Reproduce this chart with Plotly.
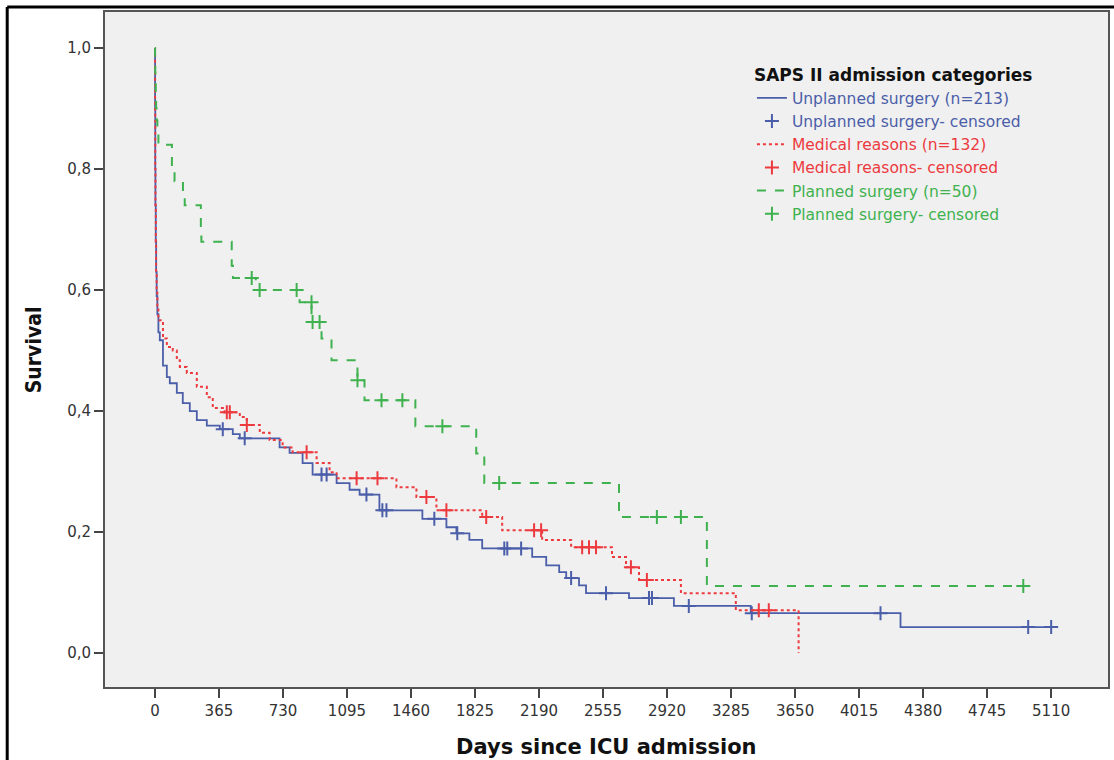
import plotly.graph_objects as go

# ---------------- data ----------------
x_ticks = [0, 365, 730, 1095, 1460, 1825, 2190, 2555, 2920, 3285, 3650, 4015, 4380, 4745, 5110]
y_ticks = [0.0, 0.2, 0.4, 0.6, 0.8, 1.0]
y_tick_text = ["0,0", "0,2", "0,4", "0,6", "0,8", "1,0"]

# Unplanned surgery (n=213)
unpl_days = [0, 1, 2, 3, 5, 7, 10, 14, 20, 28, 46, 68, 85, 125, 159, 199, 239, 296, 370, 444, 484,
             711, 768, 842, 899, 1036, 1110, 1167, 1280, 1525, 1662, 1719, 1793, 1866, 2151, 2231,
             2305, 2345, 2418, 2458, 2703, 2959, 3397, 4251, 5110]
unpl_surv = [1.0, 0.90, 0.80, 0.74, 0.68, 0.63, 0.59, 0.56, 0.53, 0.517, 0.475, 0.456, 0.446, 0.43,
             0.413, 0.40, 0.385, 0.376, 0.370, 0.362, 0.355, 0.34, 0.331, 0.314, 0.295, 0.281, 0.27,
             0.262, 0.236, 0.222, 0.208, 0.198, 0.187, 0.173, 0.159, 0.145, 0.134, 0.124, 0.112,
             0.099, 0.091, 0.078, 0.066, 0.043, 0.043]
unpl_cens_days = [387, 512, 950, 979, 1206, 1297, 1320, 1593, 1724, 1992, 2009, 2088, 2373, 2572,
                  2817, 2834, 3044, 3403, 4137, 4979, 5110]
unpl_cens_surv = [0.370, 0.355, 0.295, 0.295, 0.262, 0.236, 0.236, 0.222, 0.198, 0.173, 0.173,
                  0.173, 0.124, 0.099, 0.091, 0.091, 0.078, 0.066, 0.066, 0.043, 0.043]

# Medical reasons (n=132)
med_days = [0, 1, 2, 3, 5, 7, 10, 14, 20, 46, 68, 102, 125, 142, 182, 239, 296, 330, 398, 484, 524,
            598, 654, 728, 785, 922, 996, 1036, 1377, 1491, 1605, 1866, 1980, 2208, 2373, 2606, 2686,
            2760, 2999, 3312, 3670]
med_surv = [1.0, 0.90, 0.80, 0.74, 0.68, 0.63, 0.60, 0.57, 0.55, 0.52, 0.506, 0.50, 0.484, 0.473,
            0.463, 0.44, 0.423, 0.405, 0.398, 0.39, 0.377, 0.364, 0.352, 0.34, 0.332, 0.314, 0.299,
            0.289, 0.274, 0.258, 0.236, 0.225, 0.203, 0.187, 0.175, 0.159, 0.142, 0.121, 0.099,
            0.071, 0.0]
med_cens_days = [410, 427, 524, 865, 1150, 1269, 1548, 1662, 1889, 2162, 2202, 2436, 2475, 2515,
                 2714, 2805, 3443, 3500]
med_cens_surv = [0.398, 0.398, 0.377, 0.332, 0.289, 0.289, 0.258, 0.236, 0.225, 0.203, 0.203,
                 0.175, 0.175, 0.175, 0.142, 0.121, 0.071, 0.071]

# Planned surgery (n=50)
plan_days = [0, 1, 2, 3, 5, 7, 10, 14, 20, 97, 112, 160, 170, 262, 265, 438, 445, 575, 825, 893,
             950, 1007, 1155, 1195, 1485, 1832, 1878, 2646, 3147, 4951]
plan_surv = [1.0, 0.98, 0.96, 0.94, 0.92, 0.90, 0.88, 0.86, 0.84, 0.80, 0.78, 0.76, 0.74, 0.70,
             0.68, 0.64, 0.62, 0.60, 0.58, 0.547, 0.52, 0.484, 0.451, 0.418, 0.375, 0.33, 0.281,
             0.225, 0.111, 0.111]
plan_cens_days = [552, 597, 808, 893, 899, 939, 1155, 1292, 1411, 1639, 1963, 2862, 2999, 4951]
plan_cens_surv = [0.62, 0.60, 0.60, 0.58, 0.547, 0.547, 0.451, 0.418, 0.418, 0.375, 0.281, 0.225,
                  0.225, 0.111]

names = ["Unplanned surgery (n=213)", "Unplanned surgery- censored",
         "Medical reasons (n=132)", "Medical reasons- censored",
         "Planned surgery (n=50)", "Planned surgery- censored"]

# ---------------- styling ----------------
BLUE = "#4b5ea9"
RED = "#ec3a3f"
GREEN = "#3fb24f"
FONT = "DejaVu Sans, Verdana, sans-serif"
COND = "DejaVu Sans Condensed, DejaVu Sans, sans-serif"

fig = go.Figure()

def add_series(days, surv, cdays, csurv, color, dash, width, nm_line, nm_cens):
    fig.add_trace(go.Scatter(
        x=days, y=surv, mode="lines", line=dict(color=color, dash=dash, width=width, shape="hv"),
        name=f"<span style='color:{color}'>{nm_line}</span>", hoverinfo="skip"))
    fig.add_trace(go.Scatter(
        x=cdays, y=csurv, mode="markers",
        marker=dict(symbol="cross-thin", size=10, line=dict(color=color, width=2)),
        name=f"<span style='color:{color}'>{nm_cens}</span>", hoverinfo="skip"))

add_series(unpl_days, unpl_surv, unpl_cens_days, unpl_cens_surv, BLUE, "solid", 1.8, names[0], names[1])
add_series(med_days, med_surv, med_cens_days, med_cens_surv, RED, "dot", 2.0, names[2], names[3])
add_series(plan_days, plan_surv, plan_cens_days, plan_cens_surv, GREEN, "dash", 2.0, names[4], names[5])

x_lo, x_hi = -284.5, 5434
y_lo, y_hi = -0.056, 1.0595

fig.update_layout(
    width=1114, height=760,
    margin=dict(l=105, r=4, t=12, b=73),
    paper_bgcolor="white", plot_bgcolor="#f0f0f0",
    font=dict(family=FONT, color="#333333", size=15),
    showlegend=True,
    legend=dict(
        x=0.645, y=0.93, xanchor="left", yanchor="top",
        bgcolor="rgba(0,0,0,0)", borderwidth=0,
        font=dict(family=FONT, size=15.5),
        title=dict(text="<b>SAPS II admission categories</b>",
                   font=dict(family=FONT, size=17, color="#111111")),
        tracegroupgap=0, itemwidth=30,
    ),
    xaxis=dict(range=[x_lo, x_hi], tickvals=x_ticks, ticktext=[str(v) for v in x_ticks],
               showgrid=False, zeroline=False, showline=True, mirror=True, linecolor="#555555",
               linewidth=2, ticks="outside", ticklen=9, tickwidth=2, tickcolor="#444444",
               tickfont=dict(family=FONT, size=15, color="#333333")),
    yaxis=dict(range=[y_lo, y_hi], tickvals=y_ticks, ticktext=y_tick_text,
               showgrid=False, zeroline=False, showline=True, mirror=True, linecolor="#555555",
               linewidth=2, ticks="outside", ticklen=9, tickwidth=2, tickcolor="#444444",
               tickfont=dict(family=FONT, size=15, color="#333333")),
    annotations=[
        dict(text="<b>Days since ICU admission</b>", xref="paper", yref="paper",
             x=0.5, y=-0.089, xanchor="center", yanchor="middle", showarrow=False,
             font=dict(family=FONT, size=21, color="#111111")),
        dict(text="<b>Survival</b>", xref="paper", yref="paper", textangle=-90,
             x=-0.071, y=0.5, xanchor="center", yanchor="middle", showarrow=False,
             font=dict(family=COND, size=21, color="#111111")),
    ],
    shapes=[
        dict(type="line", xref="paper", yref="paper", x0=-0.0975, x1=1.01, y0=1.0074, y1=1.0074,
             line=dict(color="black", width=3)),
        dict(type="line", xref="paper", yref="paper", x0=-0.0975, x1=-0.0975, y0=1.0074, y1=-0.12,
             line=dict(color="black", width=3)),
    ],
)

fig.write_html("out.html", config={"displayModeBar": False},
               post_script="document.body.style.margin='0';")
